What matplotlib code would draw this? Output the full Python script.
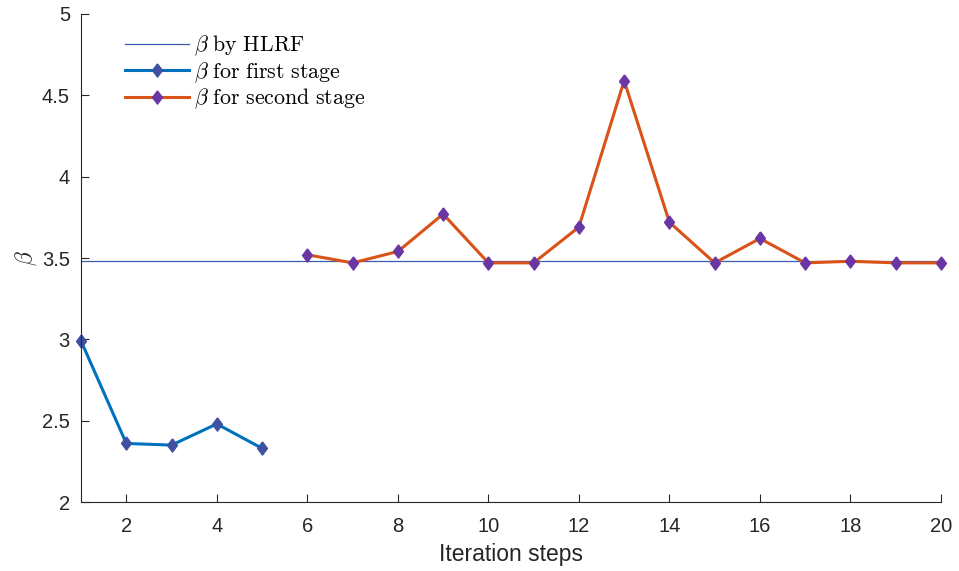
import matplotlib.pyplot as plt
import numpy as np

plt.rcParams['font.family'] = ['Liberation Sans', 'DejaVu Sans']
plt.rcParams['mathtext.fontset'] = 'cm'

# Reliability index beta per iteration step
beta_hlrf = 3.48
steps_first = [1, 2, 3, 4, 5]
beta_first = [2.99, 2.36, 2.35, 2.48, 2.33]
steps_second = [6, 7, 8, 9, 10, 11, 12, 13, 14, 15, 16, 17, 18, 19, 20]
beta_second = [3.52, 3.47, 3.54, 3.77, 3.47, 3.47, 3.69, 4.59, 3.72, 3.47,
               3.62, 3.47, 3.48, 3.47, 3.47]

# slightly tall diamond marker
diamond = [(0, 1), (0.75, 0), (0, -1), (-0.75, 0), (0, 1)]

fig = plt.figure(figsize=(9.59, 5.71), dpi=100)
ax = fig.add_axes([0.0845, 0.1208, 0.8967, 0.8547])

ax.axhline(beta_hlrf, color='#3F5BB0', linewidth=0.9, label=r'$\beta\ \mathrm{by\ HLRF}$')
ax.plot(steps_first, beta_first, color='#0072BD', linewidth=2.2, clip_on=False,
        marker=diamond, markersize=9.5, markerfacecolor='#3F51A0', markeredgecolor='#3F51A0',
        label=r'$\beta\ \mathrm{for\ first\ stage}$')
ax.plot(steps_second, beta_second, color='#D95319', linewidth=2.2, clip_on=False,
        marker=diamond, markersize=9.5, markerfacecolor='#6A35A5', markeredgecolor='#6A35A5',
        label=r'$\beta\ \mathrm{for\ second\ stage}$')

ax.set_xlim(1, 20)
ax.set_ylim(2, 5)
ax.set_xticks(np.arange(2, 21, 2))
ax.set_yticks(np.arange(2, 5.01, 0.5))
ax.set_yticklabels(['2', '2.5', '3', '3.5', '4', '4.5', '5'])

for side in ['top', 'right']:
    ax.spines[side].set_visible(False)
for side in ['left', 'bottom']:
    ax.spines[side].set_color('#262626')
    ax.spines[side].set_linewidth(0.8)
ax.tick_params(direction='in', length=6, width=0.8, colors='#262626', labelsize=14.5)
ax.tick_params(axis='x', pad=11)
ax.tick_params(axis='y', pad=8)

ax.set_xlabel('Iteration steps', fontsize=16.5, color='#262626', labelpad=5)
ax.set_ylabel(r'$\beta$', fontsize=17, color='#262626', labelpad=2)

ax.legend(loc='upper left', bbox_to_anchor=(0.028, 1.0), frameon=False,
          fontsize=15.8, handlelength=2.9, handletextpad=0.25, labelspacing=0.08)

fig.savefig('out.png', dpi=100)
